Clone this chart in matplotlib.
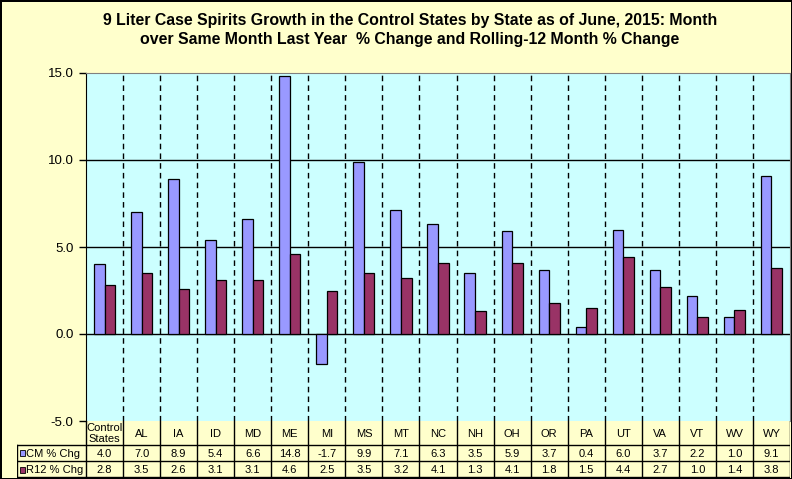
import matplotlib
matplotlib.use("Agg")
import matplotlib.pyplot as plt
from matplotlib.patches import Rectangle
import numpy as np

categories = ["Control\nStates", "AL", "IA", "ID", "MD", "ME", "MI", "MS", "MT", "NC",
              "NH", "OH", "OR", "PA", "UT", "VA", "VT", "WV", "WY"]
cm_chg = [4.0, 7.0, 8.9, 5.4, 6.6, 14.8, -1.7, 9.9, 7.1, 6.3, 3.5, 5.9, 3.7, 0.4, 6.0, 3.7, 2.2, 1.0, 9.1]
r12_chg = [2.8, 3.5, 2.6, 3.1, 3.1, 4.6, 2.5, 3.5, 3.2, 4.1, 1.3, 4.1, 1.8, 1.5, 4.4, 2.7, 1.0, 1.4, 3.8]
series_names = ["CM % Chg", "R12 % Chg"]
yticks = [-5.0, 0.0, 5.0, 10.0, 15.0]
title = ("9 Liter Case Spirits Growth in the Control States by State as of June, 2015: Month\n"
         "over Same Month Last Year  % Change and Rolling-12 Month % Change")

W, H = 792, 479
DPI = 100
fig = plt.figure(figsize=(W / DPI, H / DPI), dpi=DPI)
fig.patch.set_facecolor("#FFFFCC")
plt.rcParams['font.family'] = ['Liberation Sans', 'DejaVu Sans']

BLUE = "#9999FF"
MAROON = "#993366"

def fx(px):
    return px / W

def fy(py):
    return 1 - py / H

left_px, right_px, top_px, bot_px = 86, 790, 73, 421
ax = fig.add_axes([fx(left_px), fy(bot_px), fx(right_px) - fx(left_px), fy(top_px) - fy(bot_px)])
ax.set_facecolor("#CCFFFF")
n = len(categories)
x = np.arange(n)
bw = 0.285
ax.bar(x - bw / 2, cm_chg, bw, color=BLUE, edgecolor="black", linewidth=0.9, zorder=3)
ax.bar(x + bw / 2, r12_chg, bw, color=MAROON, edgecolor="black", linewidth=0.9, zorder=3)
ax.set_xlim(-0.5, n - 0.5)
ax.set_ylim(-5, 15)
ax.set_yticks(yticks)
ax.set_yticklabels([f"{v:.1f}" for v in yticks], fontsize=9.5)
ax.tick_params(axis="y", length=5, width=1, pad=4)
ax.set_xticks([])
for v in [0, 5, 10]:
    ax.axhline(v, color="black", linewidth=1, zorder=2)
for b in np.arange(0.5, n - 0.5, 1):
    ax.axvline(b, color="black", linewidth=1, linestyle=(0, (4, 3)), zorder=1)
for s in ["top", "right"]:
    ax.spines[s].set_color("#808080")
ax.spines["bottom"].set_visible(False)
ax.spines["left"].set_color("black")

# Data table
tleft_px, ttop_px, tbot_px = 17, 421, 478
r1, r2 = 445.5, 461.5
lab_w = (left_px - tleft_px) / ((right_px - left_px) / n)
tax = fig.add_axes([fx(tleft_px), fy(tbot_px), fx(right_px) - fx(tleft_px), fy(ttop_px) - fy(tbot_px)])
tax.set_xlim(-0.5 - lab_w, n - 0.5)
tax.set_ylim(tbot_px, ttop_px)
tax.axis("off")
lc = dict(color="black", linewidth=1)
tax.plot([-0.5 - lab_w, n - 0.5], [r1, r1], **lc)
tax.plot([-0.5 - lab_w, n - 0.5], [r2, r2], **lc)
tax.plot([-0.5 - lab_w, n - 0.5], [tbot_px - 0.5, tbot_px - 0.5], **lc)
tax.plot([-0.5 - lab_w, -0.5 - lab_w], [r1, tbot_px], **lc)
for b in np.arange(-0.5, n, 1):
    tax.plot([b, b], [ttop_px, tbot_px], **lc)
fs = 8
for i, c in enumerate(categories):
    tax.text(i, (ttop_px + r1) / 2 + 0.5, c, ha="center", va="center", fontsize=fs, linespacing=1.1)
    tax.text(i, (r1 + r2) / 2 + 0.5, f"{cm_chg[i]:.1f}", ha="center", va="center", fontsize=fs)
    tax.text(i, (r2 + tbot_px) / 2 + 0.5, f"{r12_chg[i]:.1f}", ha="center", va="center", fontsize=fs)
sq_w = 0.15
for name, color, (ya, yb) in zip(series_names, [BLUE, MAROON], [(r1, r2), (r2, tbot_px)]):
    yc = (ya + yb) / 2
    x0 = -0.5 - lab_w + 0.07
    tax.add_patch(Rectangle((x0, yc - 3), sq_w, 6, facecolor=color, edgecolor="black", linewidth=0.6))
    tax.text(x0 + sq_w + 0.03, yc + 0.5, name, ha="left", va="center", fontsize=fs)

fig.text(fx(410), fy(30), title, ha="center", va="center", fontsize=11.4, fontweight="bold",
         linespacing=1.35)

fig.patch.set_edgecolor("black")
fig.patch.set_linewidth(2)
fig.savefig("out.png", dpi=DPI, facecolor=fig.get_facecolor(), edgecolor=fig.get_edgecolor())
